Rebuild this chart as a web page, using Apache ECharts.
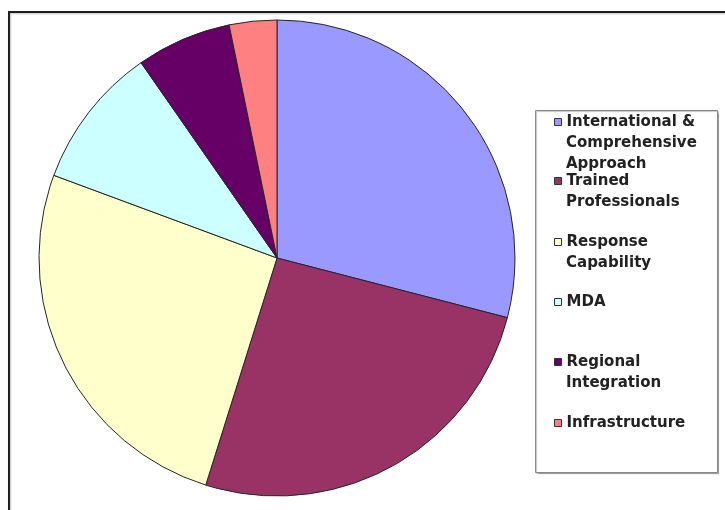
<!DOCTYPE html>
<html>
<head>
<meta charset="utf-8">
<style>
  html, body { margin: 0; padding: 0; background: #ffffff; }
  #chart { width: 725px; height: 510px; }
</style>
<script src="https://cdn.jsdelivr.net/npm/echarts@6/dist/echarts.min.js"></script>
</head>
<body>
<div id="chart"></div>
<script>
// Slice names (line breaks as they wrap in the legend)
const categories = [
  'International &\nComprehensive\nApproach',
  'Trained\nProfessionals',
  'Response\nCapability',
  'MDA',
  'Regional\nIntegration',
  'Infrastructure'
];
// Slice values
const values = [9, 8, 8, 3, 2, 1];
// Slice fill colours
const colors = ['#9999FF', '#993366', '#FFFFCC', '#CCFFFF', '#660066', '#FF8080'];

// Legend layout: vertical centre of each entry's first line
const legendLineY = [122, 181, 242, 302, 362, 423];
const LINE_H = 21;
const TEXT_X = 566;

const font = {
  fontFamily: 'DejaVu Sans',
  fontWeight: 'bold',
  fontSize: 15,
  color: '#222222'
};

const chart = echarts.init(document.getElementById('chart'), null, { renderer: 'canvas' });

// One legend per entry: icon + first line of the name
const legends = categories.map(function (name, i) {
  return {
    data: [name],
    left: 554,
    top: legendLineY[i] - LINE_H / 2,
    padding: 0,
    orient: 'vertical',
    icon: 'rect',
    itemWidth: 7,
    itemHeight: 7,
    itemGap: 0,
    selectedMode: false,
    itemStyle: { borderColor: '#333333', borderWidth: 1 },
    formatter: function (n) { return n.split('\n')[0]; },
    textStyle: Object.assign({ lineHeight: LINE_H }, font)
  };
});

// Wrapped continuation lines of the legend names
const wrapTexts = [];
categories.forEach(function (name, i) {
  name.split('\n').slice(1).forEach(function (line, k) {
    wrapTexts.push({
      type: 'text',
      x: TEXT_X,
      y: legendLineY[i] + (k + 1) * LINE_H,
      style: Object.assign({
        text: line,
        fill: font.color,
        font: 'bold 15px "DejaVu Sans"',
        verticalAlign: 'middle',
        align: 'left'
      })
    });
  });
});

chart.setOption({
  animation: false,
  backgroundColor: '#ffffff',
  color: colors,
  graphic: [
    {
      type: 'rect',
      z: -10,
      shape: { x: 9, y: 12, width: 800, height: 600 },
      style: { fill: 'none', stroke: '#1e1e1e', lineWidth: 2,
               shadowColor: 'rgba(0,0,0,0.25)', shadowBlur: 2, shadowOffsetX: 1, shadowOffsetY: 1 }
    },
    {
      type: 'rect',
      z: -5,
      shape: { x: 535.5, y: 110.5, width: 182, height: 362 },
      style: { fill: '#ffffff', stroke: '#8a8a8a', lineWidth: 1,
               shadowColor: 'rgba(0,0,0,0.25)', shadowBlur: 1, shadowOffsetX: 1, shadowOffsetY: 1 }
    }
  ].concat(wrapTexts),
  legend: legends,
  series: [{
    type: 'pie',
    center: [277, 258],
    radius: 238,
    startAngle: 90,
    clockwise: true,
    silent: true,
    label: { show: false },
    labelLine: { show: false },
    itemStyle: { borderColor: '#262626', borderWidth: 1 },
    emphasis: { disabled: true },
    data: categories.map(function (name, i) {
      return { name: name, value: values[i] };
    })
  }]
});
</script>
</body>
</html>
